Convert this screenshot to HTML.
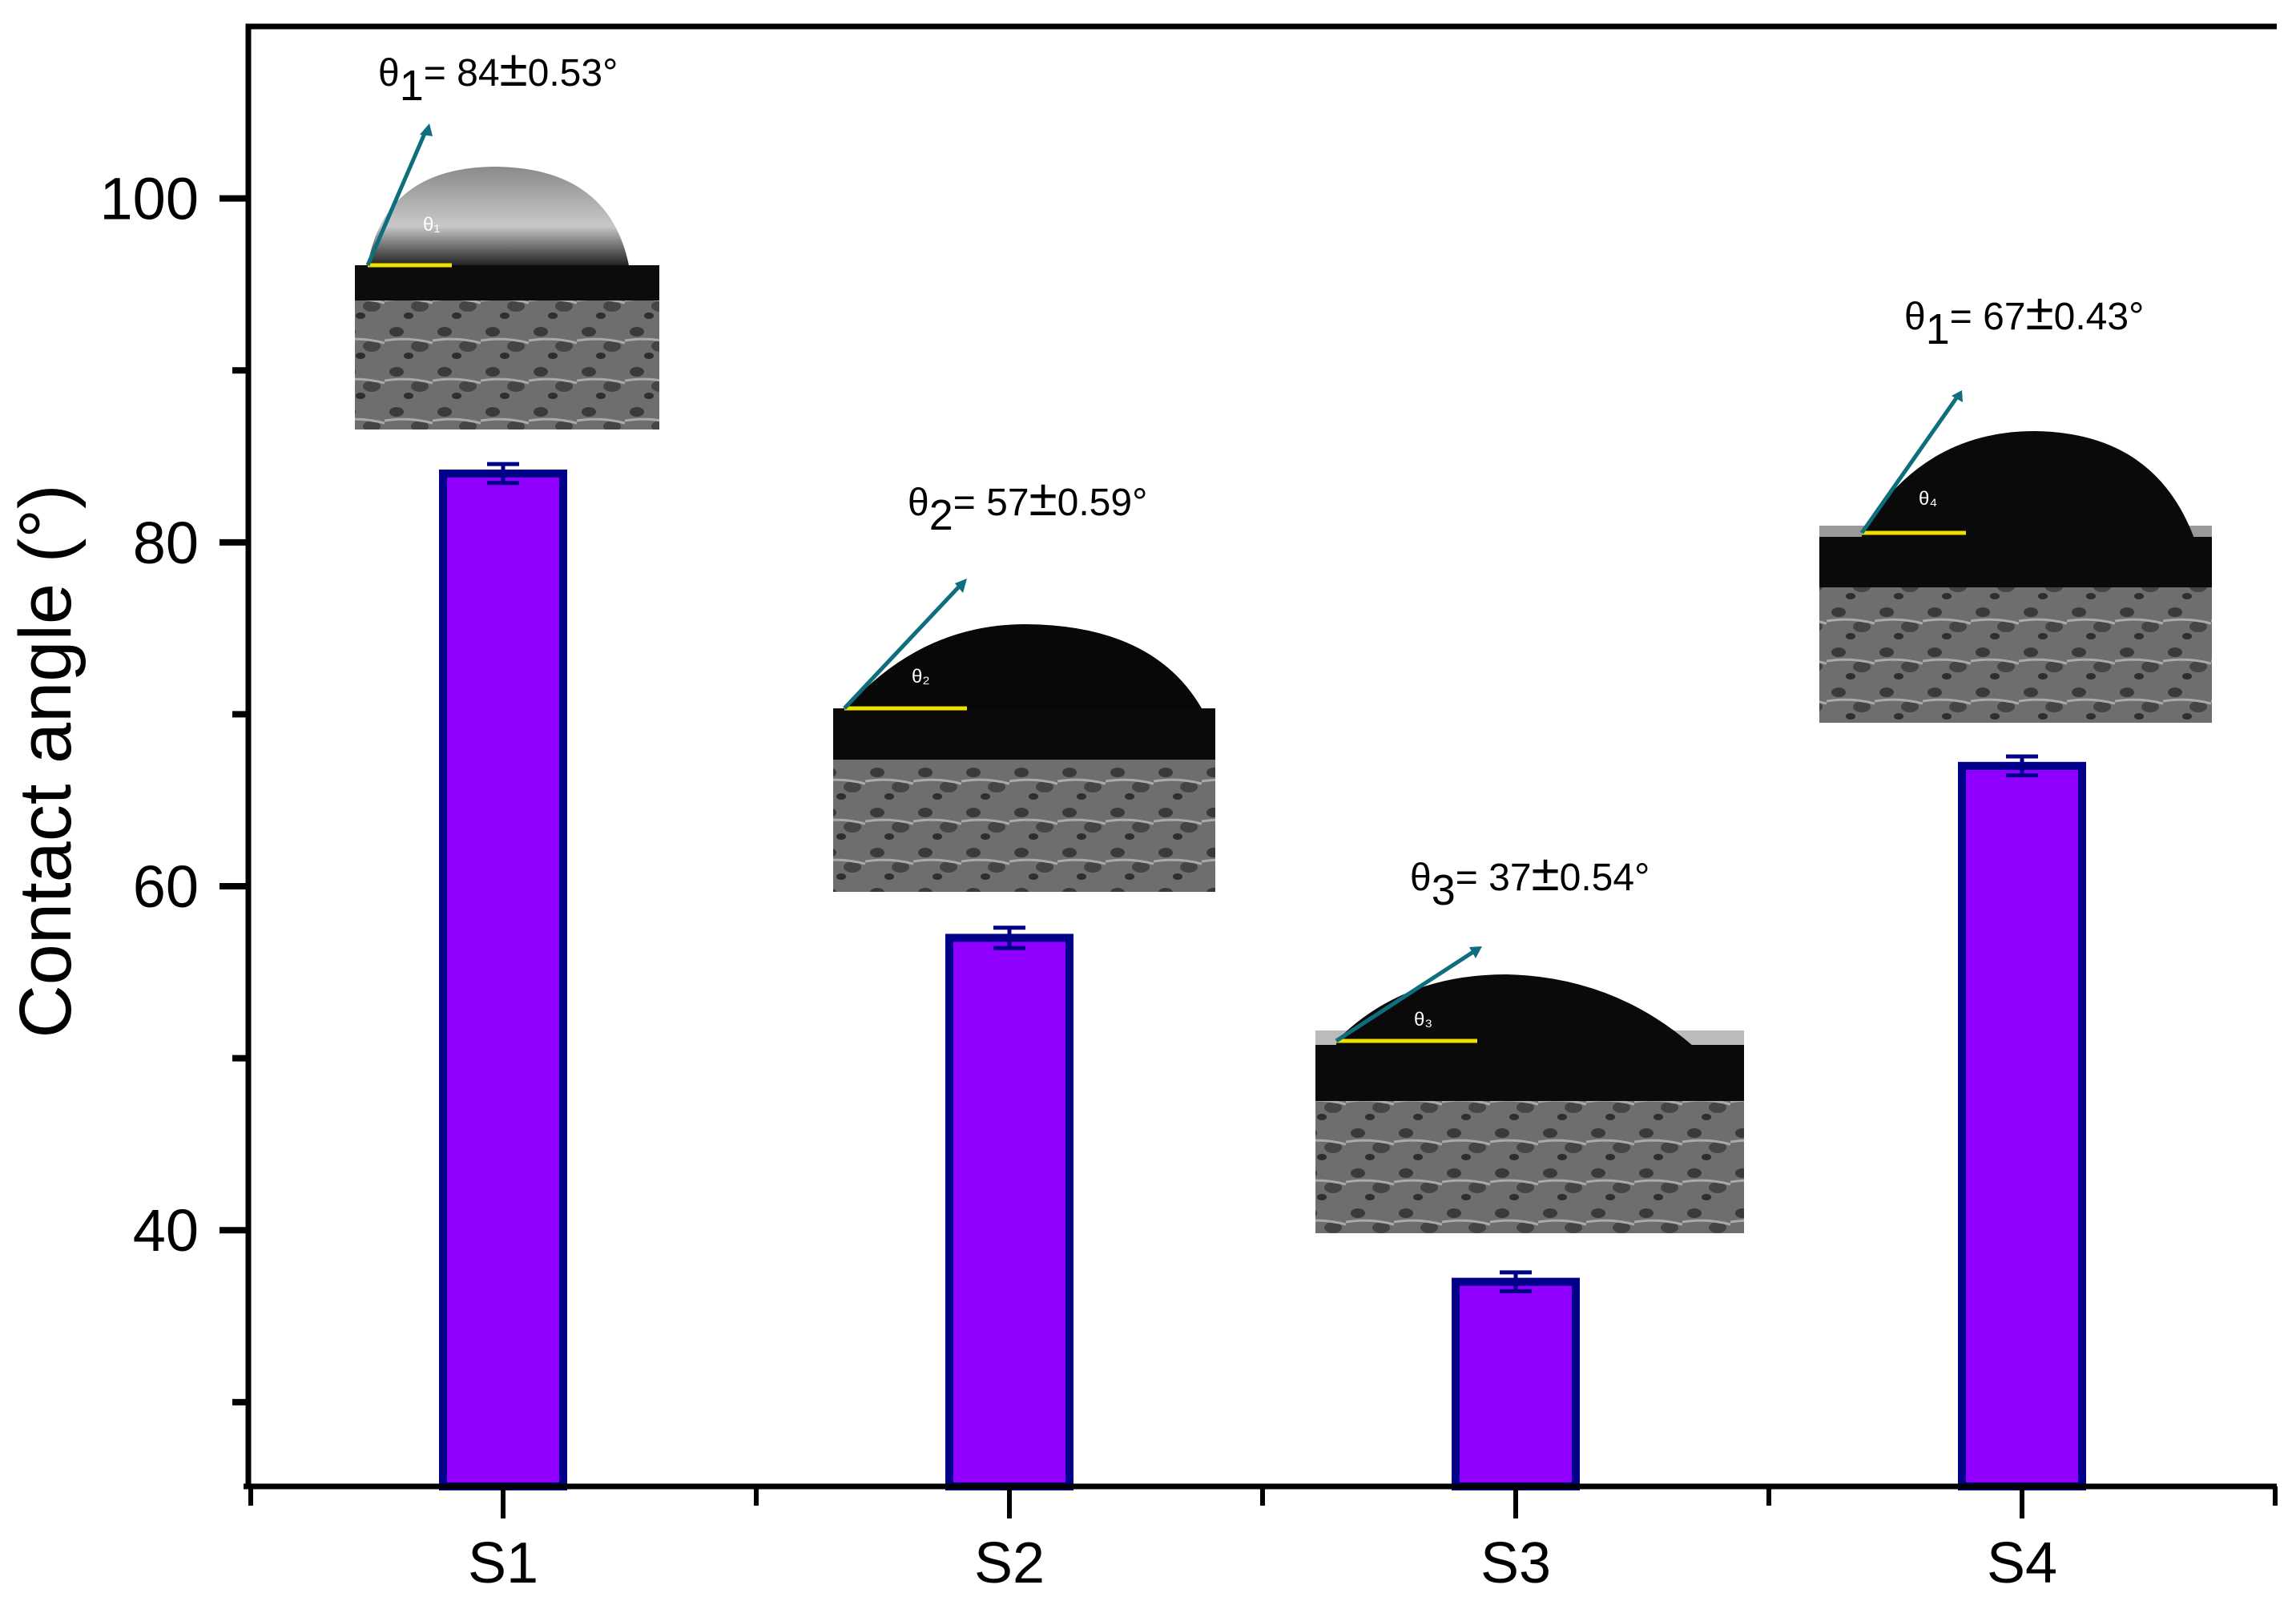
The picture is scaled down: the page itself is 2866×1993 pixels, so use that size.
<!DOCTYPE html>
<html><head><meta charset="utf-8"><style>
html,body{margin:0;padding:0;background:#fff}
svg{display:block}
text{font-family:"Liberation Sans",Arial,sans-serif}
</style></head><body>
<svg id="chart" width="2866" height="1993" viewBox="0 0 2866 1993" xmlns="http://www.w3.org/2000/svg">
<defs>
<pattern id="sem" width="60" height="50" patternUnits="userSpaceOnUse">
<rect width="60" height="50" fill="#6e6e6e"/>
<ellipse cx="15" cy="14" rx="9" ry="6" fill="#3a3a3a"/>
<ellipse cx="44" cy="32" rx="11" ry="7" fill="#454545"/>
<ellipse cx="30" cy="44" rx="6" ry="4" fill="#2e2e2e"/>
<path d="M0 25 Q30 20 60 28" stroke="#aaa" stroke-width="3" fill="none"/>
</pattern>
<linearGradient id="drop1" x1="0" y1="0" x2="0" y2="1"><stop offset="0" stop-color="#8a8a8a"/><stop offset="0.6" stop-color="#c8c8c8"/><stop offset="1" stop-color="#222"/></linearGradient>
</defs>
<g id="insets">
 <g>
  <rect x="443" y="375" width="380" height="161" fill="url(#sem)"/>
  <path d="M459 331 Q480 208 620 208 Q760 210 785 331 Z" fill="url(#drop1)"/>
  <rect x="443" y="331" width="380" height="44" fill="#0c0c0c"/>
  <line x1="459" y1="331" x2="564" y2="331" stroke="#f0e000" stroke-width="5"/>
  <text x="528" y="288" font-size="24" fill="#fff">θ₁</text>
  <line x1="459" y1="331" x2="532" y2="162" stroke="#0e6e7e" stroke-width="5"/>
  <polygon points="536,154 524,168 540,170" fill="#0e6e7e"/>
 </g>
 <g>
  <rect x="1040" y="948" width="477" height="165" fill="url(#sem)"/>
  <path d="M1056 884 Q1150 779 1280 779 Q1440 780 1500 884 Z" fill="#080808"/>
  <rect x="1040" y="884" width="477" height="64" fill="#0a0a0a"/>
  <line x1="1054" y1="884" x2="1207" y2="884" stroke="#f0e000" stroke-width="5"/>
  <text x="1138" y="852" font-size="24" fill="#fff">θ₂</text>
  <line x1="1054" y1="884" x2="1200" y2="729" stroke="#0e6e7e" stroke-width="5"/>
  <polygon points="1207,722 1192,728 1202,740" fill="#0e6e7e"/>
 </g>
 <g>
  <rect x="1642" y="1374" width="535" height="165" fill="url(#sem)"/>
  <rect x="1642" y="1286" width="535" height="20" fill="#bbb"/>
  <path d="M1668 1299 Q1750 1216 1880 1216 Q2060 1220 2177 1374 L1668 1374 Z" fill="#0a0a0a"/>
  <rect x="1642" y="1304" width="535" height="70" fill="#0a0a0a"/>
  <line x1="1668" y1="1299" x2="1844" y2="1299" stroke="#f0e000" stroke-width="5"/>
  <text x="1765" y="1280" font-size="24" fill="#fff">θ₃</text>
  <line x1="1668" y1="1299" x2="1842" y2="1186" stroke="#0e6e7e" stroke-width="5"/>
  <polygon points="1850,1181 1834,1182 1842,1196" fill="#0e6e7e"/>
 </g>
 <g>
  <rect x="2271" y="733" width="490" height="169" fill="url(#sem)"/>
  <rect x="2271" y="656" width="490" height="20" fill="#999"/>
  <path d="M2324 665 Q2400 538 2540 538 Q2700 540 2745 690 L2324 690 Z" fill="#0a0a0a"/>
  <rect x="2271" y="670" width="490" height="63" fill="#0a0a0a"/>
  <line x1="2324" y1="665" x2="2454" y2="665" stroke="#f0e000" stroke-width="5"/>
  <text x="2395" y="630" font-size="24" fill="#fff">θ₄</text>
  <line x1="2324" y1="665" x2="2444" y2="494" stroke="#0e6e7e" stroke-width="5"/>
  <polygon points="2449,487 2436,494 2450,502" fill="#0e6e7e"/>
 </g>
</g>
<g font-size="48" fill="#000">
 <text x="472" y="107">θ<tspan font-size="54" dy="18">1</tspan><tspan dy="-18">= 84</tspan><tspan font-size="64">±</tspan><tspan>0.53°</tspan></text>
 <text x="1133" y="643">θ<tspan font-size="54" dy="18">2</tspan><tspan dy="-18">= 57</tspan><tspan font-size="64">±</tspan><tspan>0.59°</tspan></text>
 <text x="1760" y="1111">θ<tspan font-size="54" dy="18">3</tspan><tspan dy="-18">= 37</tspan><tspan font-size="64">±</tspan><tspan>0.54°</tspan></text>
 <text x="2377" y="411">θ<tspan font-size="54" dy="18">1</tspan><tspan dy="-18">= 67</tspan><tspan font-size="64">±</tspan><tspan>0.43°</tspan></text>
</g>
<g id="plot"></g>
</svg>
<script>
const categories = ["S1","S2","S3","S4"];
const values = [84, 57, 37, 67];
const errors = [0.53, 0.59, 0.54, 0.43];
const yTicks = [40, 60, 80, 100];
const yMinorTicks = [30, 50, 70, 90];

const L=310, R=2842, T=33, B=1855, yMin=25.1, yMax=110;
const y = v => B - (v - yMin) / (yMax - yMin) * (B - T);
const step = 632, x0 = 628;
const x = i => x0 + i * step;
const NS="http://www.w3.org/2000/svg";
const g=document.getElementById('plot');
function mk(tag, attrs){const e=document.createElementNS(NS,tag);for(const k in attrs)e.setAttribute(k,attrs[k]);g.appendChild(e);return e;}

categories.forEach((c,i)=>{
  const bw=160, top=y(values[i]);
  const b=mk('rect',{x:x(i)-bw/2+5,y:top,width:bw-10,height:B-top,fill:'#9000ff',stroke:'#000088','stroke-width':10});
  
  
  const eh=Math.max(errors[i],0.55);
  const e=mk('path',{d:`M${x(i)} ${y(values[i]+eh)}V${y(values[i]-eh)}M${x(i)-20} ${y(values[i]+eh)}H${x(i)+20}M${x(i)-20} ${y(values[i]-eh)}H${x(i)+20}`,stroke:'#000088','stroke-width':5,fill:'none'});
  
  
  const t=mk('path',{d:`M${x(i)} ${B}v40`,stroke:'#000','stroke-width':6});
  
  
  const lb=mk('text',{x:x(i),y:1975,'font-size':72,'text-anchor':'middle'});
  lb.textContent=c;
  
  
});
for(let i=0;i<=categories.length;i++){
  const xm=x(i)-step/2;
  const m=mk('path',{d:`M${Math.max(xm,L+3)} ${B}v24`,stroke:'#000','stroke-width':6});
  
  
}
yTicks.forEach(v=>{
  const t=mk('path',{d:`M${L-36} ${y(v)}H${L}`,stroke:'#000','stroke-width':8});
  
  
  const lb=mk('text',{x:248,y:y(v)+26,'font-size':74,'text-anchor':'end'});
  lb.textContent=v;
  
  
});
yMinorTicks.forEach(v=>{
  const t=mk('path',{d:`M${L-20} ${y(v)}H${L}`,stroke:'#000','stroke-width':8});
  
  
});
const frame=mk('path',{d:`M${L} ${B}V${T}H${R}M${L-6} ${B}H${R}`,stroke:'#000','stroke-width':7,fill:'none'});


const yt=mk('text',{x:0,y:0,'font-size':92,'text-anchor':'middle',transform:'translate(88 950) rotate(-90)'});
yt.textContent='Contact angle (°)';


</script>
</body></html>
